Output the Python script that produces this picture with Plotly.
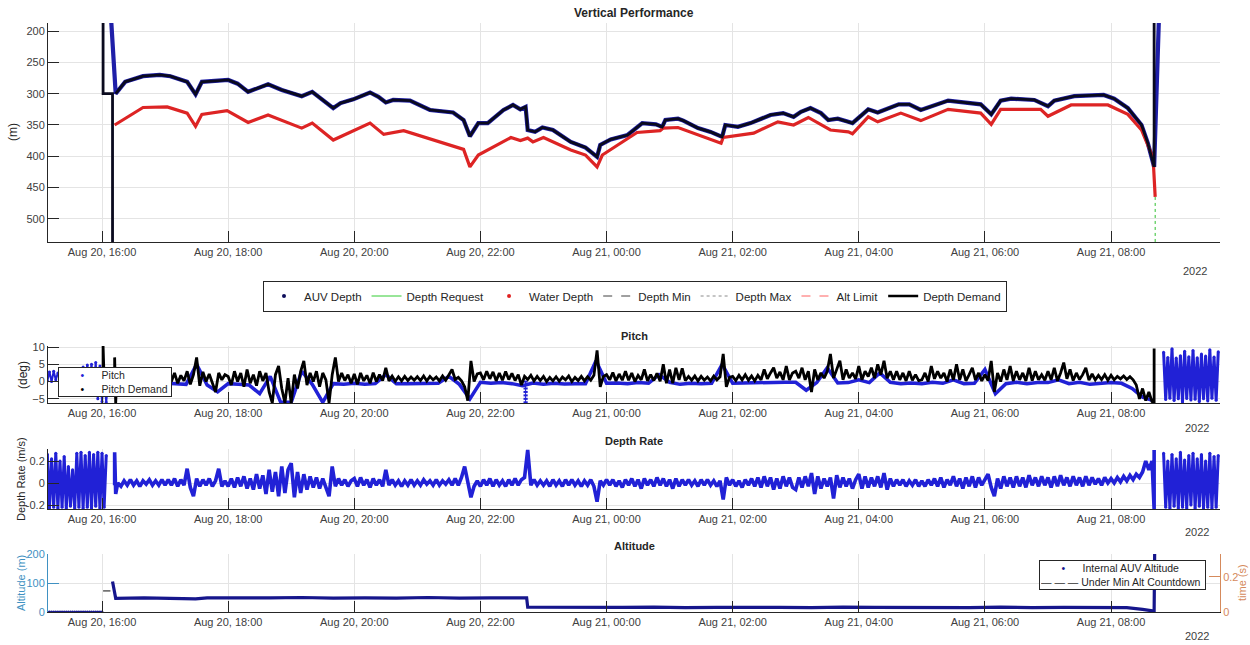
import pandas as pd
import plotly.graph_objects as go

# ---- data (times are "day HH:MM" in Aug 2022) ----
auv_time = ["20 16:02", "20 16:13", "20 16:22", "20 16:39", "20 16:55", "20 17:05", "20 17:21", "20 17:29", "20 17:35", "20 17:52",
            "20 18:00", "20 18:09", "20 18:19", "20 18:38", "20 18:51", "20 19:10", "20 19:20", "20 19:40", "20 19:47", "20 19:59",
            "20 20:15", "20 20:23", "20 20:30", "20 20:37", "20 20:53", "20 21:12", "20 21:34", "20 21:44", "20 21:50", "20 21:58",
            "20 22:07", "20 22:22", "20 22:31", "20 22:38", "20 22:43", "20 22:45", "20 22:52", "20 22:59", "20 23:09", "20 23:26",
            "20 23:40", "20 23:51", "20 23:54", "21 00:04", "21 00:20", "21 00:34", "21 00:47", "21 00:53", "21 00:56", "21 01:08",
            "21 01:13", "21 01:27", "21 01:39", "21 01:50", "21 01:53", "21 02:05", "21 02:17", "21 02:36", "21 02:48", "21 02:58",
            "21 03:05", "21 03:14", "21 03:24", "21 03:31", "21 03:40", "21 03:50", "21 03:54", "21 04:09", "21 04:18", "21 04:38",
            "21 04:48", "21 04:59", "21 05:18", "21 05:25", "21 05:56", "21 06:06", "21 06:15", "21 06:25", "21 06:47", "21 07:00",
            "21 07:06", "21 07:25", "21 07:53", "21 08:03", "21 08:16", "21 08:29", "21 08:35", "21 08:41", "21 08:49"]
auv_depth = [0, 300, 281, 272, 270, 272, 281, 301, 281, 279,
             278, 284, 297, 285, 294, 304, 297, 323, 315, 309,
             298, 305, 314, 310, 311, 326, 330, 342, 368, 347,
             347, 326, 318, 325, 321, 358, 361, 354, 358, 377,
             386, 401, 382, 373, 366, 347, 349, 353, 342, 340,
             343, 355, 361, 369, 350, 353, 347, 334, 331, 337,
             329, 323, 331, 342, 340, 345, 347, 325, 330, 317,
             317, 326, 315, 311, 317, 333, 311, 308, 310, 320,
             311, 304, 302, 308, 323, 350, 379, 417, 0]

water_time = ["20 16:12", "20 16:39", "20 17:02", "20 17:21", "20 17:29", "20 17:35", "20 17:59", "20 18:19", "20 18:38", "20 19:10",
              "20 19:20", "20 19:40", "20 20:15", "20 20:28", "20 20:47", "20 21:31", "20 21:44", "20 21:50", "20 21:58", "20 22:29",
              "20 22:38", "20 22:45", "20 22:50", "20 23:00", "20 23:26", "20 23:40", "20 23:51", "20 23:56", "21 00:29", "21 00:51",
              "21 00:54", "21 01:08", "21 01:49", "21 01:51", "21 02:20", "21 02:43", "21 02:58", "21 03:12", "21 03:33", "21 03:50",
              "21 03:54", "21 04:09", "21 04:18", "21 04:40", "21 04:59", "21 05:25", "21 05:56", "21 06:06", "21 06:15", "21 06:53",
              "21 07:00", "21 07:22", "21 07:57", "21 08:16", "21 08:29", "21 08:40", "21 08:42"]
water_depth = [350, 322, 321, 331, 352, 333, 327, 346, 334, 355,
               347, 374, 347, 365, 359, 382, 389, 417, 398, 370,
               375, 371, 377, 370, 390, 398, 417, 398, 362, 359,
               355, 354, 379, 370, 363, 345, 350, 338, 358, 361,
               364, 337, 345, 331, 343, 325, 331, 349, 325, 325,
               336, 318, 318, 333, 358, 402, 465]

demand_start_time = ["20 16:01", "20 16:01", "20 16:10", "20 16:10"]
demand_start = [0, 300, 300, 1000]
demand_end_time = ["21 08:41", "21 08:41"]
demand_end = [417, 0]

request_time = ["21 08:42", "21 08:42"]
request_depth = [465, 1000]

# pitch demand, every 3 min from 16:15 (one row per hour)
pitch_dem_start_time = ["20 16:01", "20 16:01", "20 16:02", "20 16:12", "20 16:12", "20 16:13", "20 16:14"]
pitch_dem_start = [0, 10.4, 0.5, 0.5, 7.0, -6.2, 1.0]
pitch_dem = [
    1.2, 0.0, 1.5, -0.2, 1.0, 0.3, 1.6, -0.1, 1.2, 0.2, 1.4, 0.0, 1.1, 0.4, 1.5,
    0.8, 2.2, 0.0, 2.5, -0.5, 1.8, 0.2, 3.0, -0.8, 2.0, 7.0, -1.2, 2.8, 0.0, 2.2, -0.5, -3.0, 2.5, 0.5, 2.0,
    1.5, -1.0, 3.0, 0.0, 2.5, -1.5, 3.5, -0.5, 2.0, -1.2, 3.0, 0.2, 2.5, -3.0, -6.2, 2.0, 4.5, -2.0, -6.2, 1.0,
    -6.2, 2.0, -2.0, 3.0, 6.0, -1.0, 2.5, 0.0, 3.0, -1.5, 2.5, 0.5, -6.2, 2.0, 7.0, 0.0, 2.5, 0.3, 2.0, -0.5,
    2.2, -0.8, 2.5, 0.2, 1.8, -0.5, 2.6, 0.0, 2.0, 0.3, 4.0, 0.2, 1.6, 0.1, 1.4, 0.2, 1.5, 0.3, 1.3, 0.4,
    1.4, 0.3, 1.6, 0.2, 1.5, 0.5, 1.3, 0.2, 1.6, 0.4, 1.8, 3.5, 0.6, 1.2, 0.2, -1.5, -5.5, 6.0, 0.0, 2.2,
    2.5, 0.5, 3.0, 0.8, 2.8, 0.2, 2.5, 0.4, 2.9, 0.6, 2.4, 0.3, 2.0, -1.0, 1.5, 0.6, 1.8, 0.2, 1.5, 0.3,
    1.5, 0.0, 1.2, 0.2, 1.4, 0.1, 1.3, 0.5, 1.6, 0.0, 1.2, 0.3, 1.5, 0.2, 1.4, 0.4, 1.8, 9.0, -1.5, 1.5,
    2.0, 0.5, 2.6, 0.2, 2.2, 0.4, 3.0, 0.4, 2.5, 0.0, 1.8, 0.5, 3.5, 0.2, 2.0, 0.3, 2.4, 0.1, 5.0, -0.5,
    3.5, -0.5, 4.0, 0.5, 3.8, 0.3, 1.5, 0.4, 1.6, 0.2, 1.5, 0.4, 1.3, 0.2, 1.6, 0.5, 1.4, 8.0, -1.5, 1.2,
    1.5, 0.3, 1.8, 0.5, 2.0, 0.4, 1.6, 0.2, 1.8, 0.5, 3.5, 0.8, 2.5, 4.0, 1.0, 2.8, 0.5, 4.5, 0.5, 2.5,
    3.0, 1.0, 4.0, 0.5, 3.0, -3.0, 3.5, 0.5, 2.5, 1.0, 3.0, 8.0, 1.0, 3.5, 6.0, 0.5, 3.5, 1.0, 2.5, 0.8,
    4.5, 0.5, 3.0, 1.5, 4.0, 1.0, 5.0, 2.0, 6.0, 1.0, 3.0, 0.5, 3.0, 0.5, 2.5, 0.2, 3.0, 0.4, 2.0, 0.3,
    0.5, 2.5, 0.0, 4.5, 0.8, 3.0, 1.0, 2.5, 0.0, 3.5, 0.5, 5.0, 0.5, 3.5, 0.2, 2.0, 4.0, 0.5, 2.5, 0.2,
    2.0, 0.3, 6.0, -3.0, 2.5, 0.0, 3.5, 0.5, 4.5, 0.2, 3.0, 0.5, 2.5, 0.2, 4.0, 0.3, 3.0, 0.5, 2.0, 0.4,
    3.0, 0.5, 4.0, 0.2, 2.5, 5.5, 0.8, 3.5, 0.3, 2.5, 0.6, 2.0, 4.0, 0.4, 2.2, 0.5, 1.8, 0.6, 2.0, 0.4,
    1.8, 0.5, 1.5, 0.8, 1.6, 0.6, 1.4, 0.5, -1.0, -5.0, -2.0, -5.5, -3.0, -5.8]
pitch_dem_end_time = ["21 08:41", "21 08:41"]
pitch_dem_end = [-6.2, 9.6]

# measured pitch, every 10 min from 16:10
pitch = [
    0.0, -0.5, 0.5, -1.0, 0.2,
    -0.5, -0.6, -0.8, 5.0, -1.0, -3.0,
    -0.6, -0.8, -1.0, -3.5, 1.5, -6.0,
    -6.0, 3.0, -0.8, -6.0, -0.6, -0.8,
    -0.5, -0.8, -0.6, 2.0, -0.6, -0.6,
    -0.6, -0.5, -0.5, 1.5, -0.8, -5.0,
    -0.2, -0.5, -0.3, -0.6, -1.2, -0.4,
    -0.8, -0.5, -0.7, -0.6, -0.6, 6.0,
    -0.5, -0.4, -0.6, -0.3, -0.5, 2.0,
    -0.2, -0.8, -0.5, -0.6, -0.5, 5.0,
    -0.5, -0.4, -0.3, -0.2, -0.3, -0.2,
    -0.2, -2.5, -0.3, 4.0, -0.4, -0.3,
    0.5, -0.3, 2.5, -0.2, -0.6, -0.4,
    -0.6, -0.2, -0.5, 0.5, -0.6, -0.5,
    3.5, -3.5, -0.6, -0.2, -0.6, -0.3,
    -0.3, 0.5, -0.6, -0.2, -0.8, -0.5,
    -0.3, -0.5, -2.0, -4.5, -5.5]
pitch_ladder_time = ["20 22:43"] * 7
pitch_ladder = [0, -1, -2, -3, -4, -5, -6]
# surface blocks, every 2 min
pitch_pre = [0.2, 2.8, 0.0, 3.0, 0.5, 2.5, 1.0, 2.0, 0.5, 1.5, 1.0, 0.8, 2.0, 0.5, 1.5, 3.0,
             0.0, 4.2, 1.0, 4.8, 0.5, 5.0, -1.0, 5.5, -5.0, 4.5, -5.8, 2.0, -6.0, 1.0, 0.5]
pitch_post = [8.5, -5.2, 7.0, -4.8, 9.5, -5.5, 6.8, -5.0, 7.5, -6.0, 8.8, -4.9, 7.2, -5.3,
              9.0, -5.1, 6.9, -5.8, 8.0, -5.0, 7.4, -5.6, 9.2, -4.8, 7.1, -5.4, 8.6]

# depth rate, every 3 min from 16:15 (one row per hour)
rate_start_time = ["20 16:12", "20 16:12", "20 16:13"]
rate_start = [-0.02, 0.28, -0.10]
rate = [
    0.0, -0.03, 0.02, -0.02, 0.03, -0.02, 0.02, -0.03, 0.02, -0.01, 0.03, -0.02, 0.02, -0.02, 0.03,
    -0.02, 0.03, -0.02, 0.04, -0.03, 0.03, -0.02, 0.13, -0.04, -0.12, 0.04, -0.03, 0.03, -0.02, 0.04, -0.03, 0.02, 0.13, -0.03, 0.02,
    -0.03, 0.04, -0.04, 0.05, -0.03, 0.06, -0.05, 0.04, -0.06, 0.08, -0.05, 0.07, -0.10, 0.12, -0.08, 0.10, -0.12, 0.15, -0.09, 0.12,
    0.18, -0.13, 0.10, -0.09, 0.08, -0.06, 0.06, -0.04, 0.05, -0.05, 0.04, -0.03, -0.12, 0.15, -0.03, 0.04, -0.02, 0.03, -0.03, 0.02,
    0.04, -0.03, 0.05, -0.02, 0.03, -0.04, 0.04, -0.02, 0.03, -0.03, 0.12, -0.02, 0.03, -0.02, 0.02, -0.03, 0.02, -0.02, 0.03, -0.02,
    0.02, -0.02, 0.03, -0.01, 0.02, -0.02, 0.03, -0.02, 0.02, -0.01, 0.03, -0.02, 0.04, -0.02, 0.05, 0.15, 0.02, -0.13, -0.03, 0.02,
    -0.03, 0.03, -0.02, 0.04, -0.03, 0.03, -0.02, 0.02, -0.03, 0.03, -0.02, 0.04, -0.02, 0.03, 0.05, 0.30, -0.02, 0.03, -0.02, 0.02,
    -0.02, 0.02, -0.03, 0.03, -0.02, 0.02, -0.03, 0.03, -0.02, 0.03, -0.02, 0.02, -0.03, 0.02, -0.02, 0.03, -0.03, -0.17, 0.02, -0.02,
    0.03, -0.02, 0.03, -0.03, 0.02, -0.04, 0.03, -0.02, 0.04, -0.03, 0.03, -0.05, 0.04, -0.02, 0.03, -0.03, 0.05, -0.02, 0.04, -0.03,
    0.03, -0.05, 0.04, -0.03, 0.03, -0.02, 0.03, -0.02, 0.02, -0.03, 0.03, -0.02, 0.03, -0.02, 0.02, -0.03, 0.02, -0.15, 0.05, -0.02,
    0.03, -0.03, 0.02, -0.04, 0.03, -0.02, 0.04, -0.03, 0.05, -0.04, 0.06, -0.03, 0.05, -0.06, 0.04, -0.05, 0.06, -0.03, 0.05, -0.04,
    -0.06, 0.05, -0.04, 0.06, -0.03, 0.09, -0.10, 0.06, -0.05, 0.04, -0.03, 0.05, -0.14, 0.07, -0.04, 0.05, -0.03, 0.04, -0.05, 0.03,
    0.08, -0.05, 0.06, -0.04, 0.05, -0.03, 0.06, -0.04, 0.09, -0.06, 0.04, -0.03, 0.03, -0.02, 0.03, -0.03, 0.02, -0.02, 0.03, -0.03,
    0.02, -0.03, 0.03, -0.02, 0.04, -0.03, 0.05, -0.04, 0.03, -0.02, 0.06, -0.03, 0.04, -0.05, 0.05, -0.03, 0.06, -0.04, 0.05, -0.02,
    0.03, 0.08, -0.04, -0.12, 0.04, -0.05, 0.06, -0.03, 0.05, -0.04, 0.06, -0.03, 0.05, -0.04, 0.07, -0.02, 0.05, -0.03, 0.06, -0.02,
    0.05, -0.04, 0.06, -0.03, 0.07, -0.02, 0.05, -0.03, 0.06, -0.02, 0.05, -0.03, 0.06, -0.02, 0.05, -0.01, 0.04, -0.02, 0.05, 0.0,
    0.04, 0.0, 0.05, 0.01, 0.06, 0.02, 0.07, 0.03, 0.08, 0.05, 0.10, 0.20, 0.12, 0.20]
rate_end_time = ["21 08:41", "21 08:41"]
rate_end = [-0.24, 0.30]
rate_pre = [0.26, -0.23, 0.22, -0.22, 0.27, -0.23, 0.20, -0.22, 0.24, -0.23, 0.15, -0.21, 0.12, -0.23, 0.27,
            -0.22, 0.28, -0.23, 0.25, -0.22, 0.28, -0.23, 0.26, -0.21, 0.28, -0.23, 0.27, -0.22, 0.25]
rate_post = [0.27, -0.22, 0.20, -0.23, 0.26, -0.21, 0.22, -0.23, 0.28, -0.22, 0.21, -0.23, 0.25, -0.20,
             0.27, -0.23, 0.22, -0.21, 0.26, -0.23, 0.20, -0.22, 0.27, -0.23, 0.24, -0.22, 0.25]

alt_time = ["20 16:10", "20 16:13", "20 16:40", "20 17:10", "20 17:29", "20 17:40", "20 18:10", "20 18:40", "20 19:10", "20 19:40",
            "20 20:10", "20 20:40", "20 21:10", "20 21:40", "20 22:10", "20 22:44", "20 22:45", "20 23:15", "20 23:45", "21 00:15",
            "21 00:45", "21 01:15", "21 01:45", "21 02:15", "21 02:45", "21 03:15", "21 03:45", "21 04:15", "21 04:45", "21 05:15",
            "21 05:45", "21 06:15", "21 06:45", "21 07:15", "21 07:45", "21 08:15", "21 08:30", "21 08:38", "21 08:41", "21 08:42"]
altitude = [105, 47, 49, 48, 45, 49, 48, 49, 50, 48,
            49, 48, 50, 48, 49, 49, 17, 16, 17, 16,
            17, 15, 16, 17, 16, 15, 17, 16, 15, 16,
            15, 17, 15, 16, 15, 15, 9, 5, 3, 400]
alt_pre = [0, 0, 0, 0, 0, 0, 0, 0, 0, 0, 0, 0, 0, 0, 0, 0, 0, 0, 0, 0, 0, 0, 0, 0, 0, 0]
countdown_time = ["20 16:01", "20 16:08"]
countdown = [0.12, 0.12]


def ts(lst):
    return pd.to_datetime(["2022-08-" + s for s in lst])


grid3p = pd.date_range("2022-08-20 16:15", periods=len(pitch_dem), freq="3min")
grid3r = pd.date_range("2022-08-20 16:15", periods=len(rate), freq="3min")
grid10 = pd.date_range("2022-08-20 16:10", periods=len(pitch), freq="10min")
pre_grid = pd.date_range("2022-08-20 15:08", periods=len(pitch_pre), freq="2min")
post_grid = pd.date_range("2022-08-21 08:50", periods=len(pitch_post), freq="2min")
alt_grid = pd.date_range("2022-08-20 15:10", periods=len(alt_pre), freq="2min")

FONT = "Liberation Sans, Arial, sans-serif"
BLUE = "#2121d6"
NAVY = "#16168c"

fig = go.Figure()

# ---- Vertical Performance ----
fig.add_trace(go.Scatter(x=ts(auv_time), y=auv_depth, mode="lines", line=dict(color="#1f1fa8", width=4.2),
                         showlegend=False, xaxis="x", yaxis="y"))
fig.add_trace(go.Scatter(x=ts(request_time), y=request_depth, mode="lines",
                         line=dict(color="#2fbf2f", width=1, dash="dot"), showlegend=False, xaxis="x", yaxis="y"))
fig.add_trace(go.Scatter(x=ts(water_time), y=water_depth, mode="lines", line=dict(color="#dd2424", width=3.2),
                         showlegend=False, xaxis="x", yaxis="y"))
for t, v in [(demand_start_time, demand_start), (auv_time[1:-1], auv_depth[1:-1]), (demand_end_time, demand_end)]:
    fig.add_trace(go.Scatter(x=ts(t), y=v, mode="lines", line=dict(color="#0a0a1e", width=2.8),
                             showlegend=False, xaxis="x", yaxis="y"))

leg1 = [("AUV Depth", dict(mode="markers", marker=dict(color="#0c0c5a", size=4))),
        ("Depth Request", dict(mode="lines", line=dict(color="#33cc33", width=1))),
        ("Water Depth", dict(mode="markers", marker=dict(color="#e02020", size=4))),
        ("Depth Min", dict(mode="lines", line=dict(color="#404040", width=1, dash="dash"))),
        ("Depth Max", dict(mode="lines", line=dict(color="#8a8a8a", width=1, dash="dot"))),
        ("Alt Limit", dict(mode="lines", line=dict(color="#ff6060", width=1, dash="dash"))),
        ("Depth Demand", dict(mode="lines", line=dict(color="black", width=2.5)))]
for name, kw in leg1:
    fig.add_trace(go.Scatter(x=[None], y=[None], name=name, xaxis="x", yaxis="y", **kw))

# ---- Pitch ----
fig.add_trace(go.Scatter(x=pre_grid, y=pitch_pre, mode="lines+markers", line=dict(color=BLUE, width=2),
                         marker=dict(color=BLUE, size=3), showlegend=False, xaxis="x2", yaxis="y2"))
fig.add_trace(go.Scatter(x=grid10, y=pitch, mode="lines", line=dict(color=BLUE, width=3.5),
                         showlegend=False, xaxis="x2", yaxis="y2"))
fig.add_trace(go.Scatter(x=ts(pitch_ladder_time), y=pitch_ladder, mode="lines+markers", line=dict(color=BLUE, width=1),
                         marker=dict(color=BLUE, size=3, symbol="line-ew", line=dict(color=BLUE, width=2)),
                         showlegend=False, xaxis="x2", yaxis="y2"))
fig.add_trace(go.Scatter(x=post_grid, y=pitch_post, mode="lines+markers", line=dict(color=BLUE, width=3),
                         marker=dict(color=BLUE, size=3), showlegend=False, xaxis="x2", yaxis="y2"))
pd_time = list(ts(pitch_dem_start_time)) + list(grid3p) + list(ts(pitch_dem_end_time))
fig.add_trace(go.Scatter(x=pd_time, y=pitch_dem_start + pitch_dem + pitch_dem_end, mode="lines",
                         line=dict(color="black", width=2.8), showlegend=False, xaxis="x2", yaxis="y2"))

# ---- Depth Rate ----
fig.add_trace(go.Scatter(x=pre_grid[:len(rate_pre)], y=rate_pre, mode="lines+markers", line=dict(color=BLUE, width=3),
                         marker=dict(color=BLUE, size=3), showlegend=False, xaxis="x3", yaxis="y3"))
dr_time = list(ts(rate_start_time)) + list(grid3r) + list(ts(rate_end_time))
fig.add_trace(go.Scatter(x=dr_time, y=rate_start + rate + rate_end, mode="lines", line=dict(color=BLUE, width=3.6),
                         showlegend=False, xaxis="x3", yaxis="y3"))
fig.add_trace(go.Scatter(x=post_grid, y=rate_post, mode="lines+markers", line=dict(color=BLUE, width=3),
                         marker=dict(color=BLUE, size=3), showlegend=False, xaxis="x3", yaxis="y3"))

# ---- Altitude ----
fig.add_trace(go.Scatter(x=alt_grid, y=alt_pre, mode="markers", marker=dict(color=NAVY, size=3),
                         showlegend=False, xaxis="x4", yaxis="y4"))
fig.add_trace(go.Scatter(x=ts(alt_time), y=altitude, mode="lines", line=dict(color=NAVY, width=3.2),
                         showlegend=False, xaxis="x4", yaxis="y4"))
fig.add_trace(go.Scatter(x=ts(countdown_time), y=countdown, mode="lines", line=dict(color="#333333", width=1.2),
                         showlegend=False, xaxis="x4", yaxis="y5"))

# ---- layout ----
W, H = 1250, 645


def yd(top, bottom):
    return [1 - bottom / H, 1 - top / H]


xdom = [48 / W, 1220 / W]
xbase = dict(type="date", range=["2022-08-20 15:08:36", "2022-08-21 09:43:40"], domain=xdom,
             tick0="2022-08-20 16:00", dtick=2 * 3600 * 1000, tickformat="%b %d, %H:%M",
             ticks="inside", ticklen=11, tickcolor="#262626", showline=True, linecolor="#262626",
             showgrid=True, gridcolor="#e4e4e4", zeroline=False, automargin=False,
             tickfont=dict(size=11, color="#404040"))
ybase = dict(ticks="inside", ticklen=11, tickcolor="#262626", showline=True, linecolor="#262626",
             showgrid=True, gridcolor="#e4e4e4", zeroline=False, automargin=False,
             tickfont=dict(size=11, color="#404040"))

ALT_C = "#3f91c2"
TIME_C = "#d58a5c"

fig.update_layout(
    width=W, height=H, margin=dict(l=0, r=0, t=0, b=0, autoexpand=False),
    paper_bgcolor="white", plot_bgcolor="white",
    font=dict(family=FONT, size=11, color="#262626"),
    xaxis=dict(xbase, anchor="y"),
    yaxis=dict(ybase, domain=yd(23, 242), range=[537, 187], tickvals=[200, 250, 300, 350, 400, 450, 500], anchor="x"),
    xaxis2=dict(xbase, anchor="y2"),
    yaxis2=dict(ybase, domain=yd(346, 403), range=[-6.2, 10.3], tickvals=[-5, 0, 5, 10], anchor="x2"),
    xaxis3=dict(xbase, anchor="y3"),
    yaxis3=dict(ybase, domain=yd(449, 509), range=[-0.236, 0.309], tickvals=[-0.2, 0, 0.2],
                ticktext=["-0.2", "0", "0.2"], anchor="x3"),
    xaxis4=dict(xbase, anchor="y4"),
    yaxis4=dict(ybase, domain=yd(554, 612), range=[0, 200], tickvals=[0, 100, 200], anchor="x4",
                linecolor=ALT_C, tickcolor=ALT_C, tickfont=dict(size=11, color=ALT_C)),
    yaxis5=dict(overlaying="y4", anchor="x4", side="right", range=[0, 0.33], tickvals=[0, 0.2],
                ticktext=["0", "0.2"], ticks="inside", ticklen=11, showline=True, showgrid=False,
                zeroline=False, automargin=False, linecolor=TIME_C, tickcolor=TIME_C,
                tickfont=dict(size=11, color=TIME_C)),
    legend=dict(orientation="h", x=635 / W, xanchor="center", y=1 - 296 / H, yanchor="middle",
                bgcolor="white", bordercolor="#262626", borderwidth=1, font=dict(size=11.5, color="#262626")),
)

notes = [("<b>Vertical Performance</b>", 634, 13, 12, "#262626", 0),
         ("<b>Pitch</b>", 634, 336, 11, "#262626", 0),
         ("<b>Depth Rate</b>", 634, 441, 11, "#262626", 0),
         ("<b>Altitude</b>", 634, 546, 11, "#262626", 0),
         ("(m)", 13, 132, 12, "#262626", -90),
         ("(deg)", 23, 375, 12, "#262626", -90),
         ("Depth Rate (m/s)", 21, 479, 11, "#262626", -90),
         ("Altitude (m)", 21, 583, 11, ALT_C, -90),
         ("time (s)", 1242, 583, 11, TIME_C, -90),
         ("2022", 1195, 271, 11, "#404040", 0),
         ("2022", 1197, 428, 11, "#404040", 0),
         ("2022", 1197, 532, 11, "#404040", 0),
         ("2022", 1197, 636, 11, "#404040", 0)]
for text, px, py, size, color, ang in notes:
    fig.add_annotation(text=text, x=px / W, y=1 - py / H, xref="paper", yref="paper", showarrow=False,
                       xanchor="center", yanchor="middle", textangle=ang,
                       font=dict(size=size, color=color, family=FONT))

# small boxed keys for the pitch and altitude panels
sp = "&nbsp;"
pitch_key = (sp * 7 + f"<span style='color:{BLUE}'>•</span>" + sp * 6 + "Pitch<br>"
             + sp * 7 + "<span style='color:black'>•</span>" + sp * 6 + "Pitch Demand")
alt_key = (sp * 7 + f"<span style='color:{NAVY}'>•</span>" + sp * 6 + "Internal AUV Altitude<br>"
           + "<span style='color:#333333'>— — —</span>" + sp + "Under Min Alt Countdown")
for text, px, py, w in [(pitch_key, 58, 367, 116), (alt_key, 1039, 560, 169)]:
    fig.add_annotation(text=text, x=px / W, y=1 - py / H, xref="paper", yref="paper", showarrow=False,
                       xanchor="left", yanchor="top", align="left", width=w - 6,
                       bgcolor="white", bordercolor="#262626", borderwidth=1, borderpad=1,
                       font=dict(size=10.5, color="#262626", family=FONT))

fig.write_html("out.html", config={"displayModeBar": False},
               post_script="document.body.style.margin='0px';")
